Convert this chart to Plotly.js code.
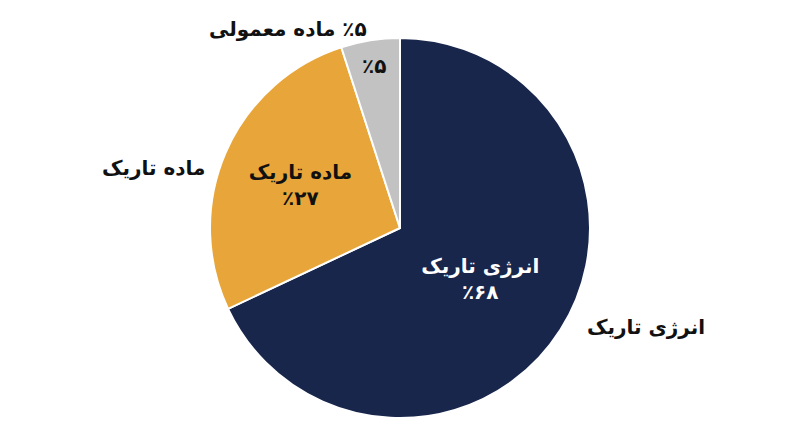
<!DOCTYPE html>
<html>
<head>
<meta charset="utf-8">
<script src="https://cdn.plot.ly/plotly-3.0.1.min.js"></script>
<style>body{margin:0;background:#fff}</style>
</head>
<body>
<div id="chart" style="width:800px;height:447px"></div>
<script>
var RLM = '\u200F'

var labels = ['انرژی تاریک', 'ماده تاریک', 'ماده معمولی']
var values = [68, 27, 5]
var percentText = ['٪۶۸', '٪۲۷', '٪۵']
var colors = ['#18264c', '#e8a63a', '#c2c2c2']
var insideColors = ['#ffffff', '#111111', '#111111']

// text drawn inside each slice
var insideText = [
    labels[0] + '<br>' + percentText[0],
    labels[1] + '<br>' + percentText[1],
    percentText[2]
]

// text beside each slice
var outsideText = [
    RLM + labels[0],
    RLM + labels[1],
    RLM + percentText[2] + ' ' + labels[2]
]

var labelFont = {family: 'DejaVu Sans', size: 20, color: '#111111', weight: 'bold'}

var pie = {
    type: 'pie',
    values: values,
    labels: labels,
    text: insideText,
    textinfo: 'text',
    textposition: 'inside',
    insidetextorientation: 'horizontal',
    insidetextfont: {color: insideColors, size: 20, family: 'DejaVu Sans', weight: 'bold'},
    sort: false,
    direction: 'clockwise',
    rotation: 0,
    marker: {colors: colors, line: {color: '#ffffff', width: 2}},
    hoverinfo: 'none',
    showlegend: false
}

var layout = {
    width: 800,
    height: 447,
    margin: {l: 0, r: 0, t: 38, b: 29},
    paper_bgcolor: '#ffffff',
    font: {family: 'DejaVu Sans', size: 20, color: '#111111'},
    showlegend: false,
    annotations: [
        {text: outsideText[0], xref: 'paper', yref: 'paper', x: 0.731, y: 0.24,
            xanchor: 'left', yanchor: 'middle', showarrow: false, font: labelFont},
        {text: outsideText[1], xref: 'paper', yref: 'paper', x: 0.259, y: 0.658,
            xanchor: 'right', yanchor: 'middle', showarrow: false, font: labelFont},
        {text: outsideText[2], xref: 'paper', yref: 'paper', x: 0.461, y: 1.024,
            xanchor: 'right', yanchor: 'middle', showarrow: false, font: labelFont}
    ]
}

Plotly.newPlot('chart', [pie], layout, {displayModeBar: false})
</script>
</body>
</html>
